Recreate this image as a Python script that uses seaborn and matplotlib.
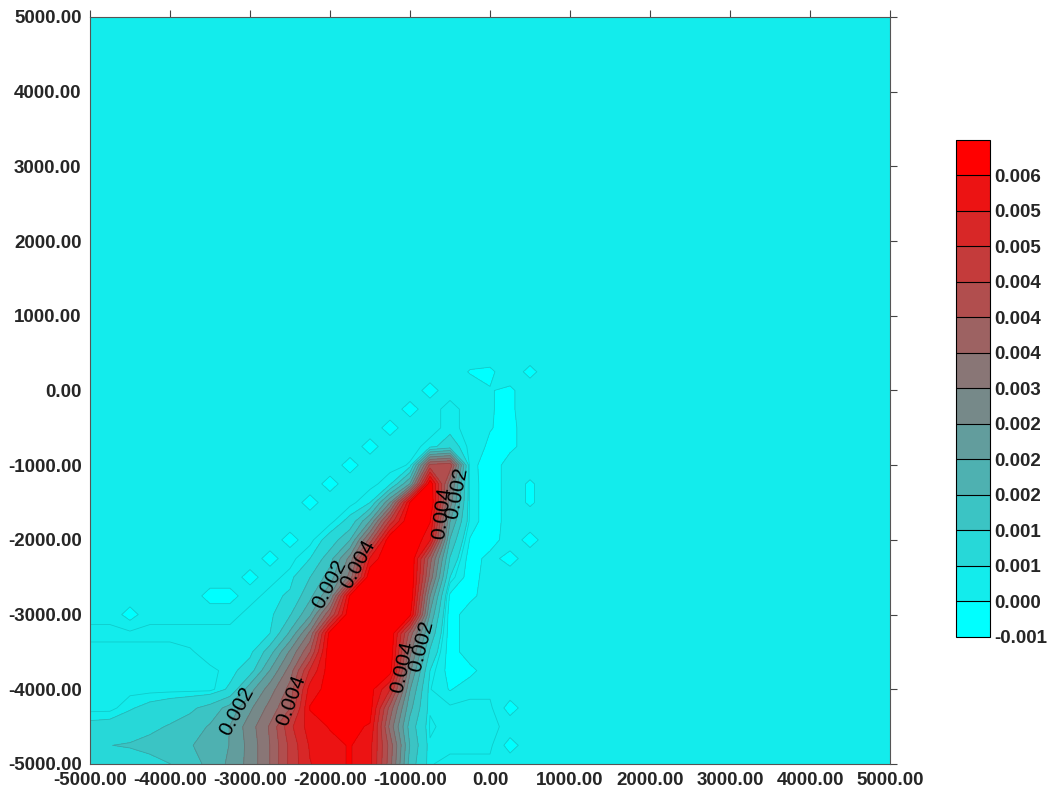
import numpy as np
import matplotlib
matplotlib.use("Agg")
import matplotlib.pyplot as plt
from matplotlib.ticker import FormatStrFormatter
import seaborn as sns

# grid node coordinates (x = 5000 and y = 5000 are added as plain background)
x_nodes = [-5000, -4750, -4500, -4250, -4000, -3750, -3500, -3250, -3000, -2750, -2500, -2250,
           -2000, -1750, -1500, -1250, -1000, -750, -500, -250, 0, 250, 500, 750]
y_nodes = [750, 500, 250, 0, -250, -500, -750, -1000, -1250, -1500, -1750, -2000, -2250,
           -2500, -2750, -3000, -3250, -3500, -3750, -4000, -4250, -4500, -4750, -5000]
background = -2  # in units of 1e-4

# grid values in units of 1e-4, one row per y node (top row first)
z_rows = [
    [-2] * 24,
    [-2] * 24,
    [-2] * 19 + [-5, -5.5, -2, -6, -2],
    [-2] * 17 + [-6.5, -2, -2, -4.4, -5.5, -2, -2],
    [-2] * 16 + [-6.5, -2, -0.5, -2, -4.4, -5.5, -2, -2],
    [-2] * 15 + [-6.5, -2, -2, -0.5, -2, -4.4, -6, -2, -2],
    [-2] * 14 + [-6.5, -2, -2, -0.5, 3, -2, -5.5, -6, -2, -2],
    [-2] * 13 + [-6.5, -2, -2, -1, 40, 42, -2.5, -8, -2, -2, -2],
    [-2] * 12 + [-6.5, -2, -2, 0, 17, 64, 29, -2, -8, -2, -5.4, -2],
    [-2] * 11 + [-6.5, -2, -2, 0.7, 22, 60, 66, 24.5, -2, -8, -2, -5.4, -2],
    [-2] * 13 + [2, 17, 45, 66, 60, 17, -2, -8, -2, -2, -2],
    [-2] * 10 + [-6.5, -2, 2.5, 11.3, 35, 65, 66, 55, 10.9, -5, -7, -2, -6.5, -2],
    [-2] * 9 + [-6.5, -2, 0.7, 9.3, 24, 55, 66, 66, 35, 5.6, -7, -3, -6.5, -2, -2],
    [-2] * 8 + [-6.5, -2, -0.5, 6, 13.9, 29.6, 65, 66, 66, 31, 0.7, -7, -2, -2, -2, -2],
    [-2] * 6 + [-6.5, -6.5, -2, -0.5, 1.4, 9.9, 21.8, 60.5, 66, 66, 65, 22.3, -5.5, -6, -2, -2, -2, -2],
    [-2, -2, -6.5, -2, -2, -2, -2, -2, -0.5, -0.3, 5.6, 15.8, 38, 65, 65, 65, 61, 16, -7, -2, -2, -2, -2, -2],
    [-0.5] * 9 + [0.7, 12.3, 28.7, 62, 65, 65, 65, 35.9, 10.4, -7, -2, -2, -2, -2, -2],
    [-2] * 5 + [-1.4, -0.5, -0.5, -0.5, 9.1, 23, 38, 64, 64, 64, 64, 29, 5.2, -7, -2, -2, -2, -2, -2],
    [-2] * 6 + [-1.5, -0.8, 3.4, 17, 30, 49.6, 63, 63, 63, 62, 23, 0.7, -6.5, -6, -2, -2, -2, -2],
    [-2] * 7 + [1.5, 14.6, 24.9, 34.8, 56.7, 62, 63, 62, 49, 17, -1, -5, -2, -2, -2, -2, -2],
    [-2, -2, 0.3, 2, 3.5, 5, 8, 13.5, 21, 29.5, 38, 60, 63, 63, 62, 36, 13, -1, -0.5, -0.5, -0.5, -6.5, -2, -2],
    [2, 2.5, 3.5, 5, 6.5, 8.5, 12, 17, 25, 33.6, 47.4, 57, 60, 61, 59, 31, 9, -1.5, -0.5, -0.5, -0.5, -2, -2, -2],
    [6, 6, 6.5, 7.5, 9, 11, 13.5, 17, 24, 33, 45, 55, 58, 60, 56, 36, 11, -1, -0.5, -0.5, -0.5, -6.5, -2, -2],
    [3, 3, 3.5, 4.5, 6, 9, 13, 18, 24, 33, 45, 54, 58, 60, 56, 35, 9, -1, -2, -2, -2, -2, -2, -2],
]

# contour levels and colour-scale labels
levels = [-0.0010, -0.000464, 0.000071, 0.000607, 0.00114, 0.00168, 0.00221, 0.00275,
          0.00329, 0.00382, 0.00436, 0.00489, 0.00543, 0.00596, 0.0070]
faint_level = -0.00012  # extra outline inside the background band
cbar_labels = ['-0.001', '0.000', '0.001', '0.001', '0.002', '0.002', '0.002', '0.003',
               '0.004', '0.004', '0.004', '0.005', '0.005', '0.006']
axis_ticks = [-5000, -4000, -3000, -2000, -1000, 0, 1000, 2000, 3000, 4000, 5000]

# where the 0.002 / 0.004 line labels sit
label_levels = [levels[5], levels[9]]
label_spots = [(-1962, -2630), (-3125, -4317), (-840, -3430), (-412, -1370),
               (-1537, -2360), (-2500, -4140), (-1125, -3700), (-587, -1640)]

sns.set_style("white")
plt.rcParams['font.family'] = ['Liberation Sans', 'DejaVu Sans']

# assemble the grid, add the far background edge, flip to ascending y
z = np.array(z_rows, dtype=float)
z = np.pad(z, ((1, 0), (0, 1)), constant_values=background)
xs = np.array(x_nodes + [5000])
ys = np.array([5000] + y_nodes)
z = z[::-1] * 1e-4
ys = ys[::-1]

palette = sns.blend_palette(["#00FFFF", "#FF0000"], n_colors=len(levels) - 1)

fig = plt.figure(figsize=(10.57, 7.89), dpi=100)
ax = fig.add_axes([0.0851, 0.0317, 0.757, 0.9468])

cf = ax.contourf(xs, ys, z, levels=levels, colors=palette)
line_levels = sorted([faint_level] + levels[1:-1])
ax.contour(xs, ys, z, levels=line_levels, colors='k', linewidths=0.6, alpha=0.14,
           linestyles='solid')
lab_cs = ax.contour(xs, ys, z, levels=label_levels, colors='k', linewidths=0)
ax.clabel(lab_cs, fmt=lambda v: f"{v:.3f}", manual=label_spots, fontsize=15,
          colors='k', inline=False)

ax.set_xlim(-5000, 5000)
ax.set_ylim(-5000, 5000)
ax.set_xticks(axis_ticks)
ax.set_yticks(axis_ticks)
ax.xaxis.set_major_formatter(FormatStrFormatter('%.2f'))
ax.yaxis.set_major_formatter(FormatStrFormatter('%.2f'))
ax.tick_params(direction='out', length=5, width=0.8, color='#444444',
               top=True, right=True, labeltop=False, labelright=False, pad=1)
for lab in ax.get_xticklabels() + ax.get_yticklabels():
    lab.set_fontsize(13.5)
    lab.set_fontweight('bold')
for sp in ax.spines.values():
    sp.set_color('#555555')
    sp.set_linewidth(0.8)

cax = fig.add_axes([0.9045, 0.1927, 0.0322, 0.63])
cbar = fig.colorbar(cf, cax=cax, ticks=levels[:-1], drawedges=True)
cbar.ax.set_yticklabels(cbar_labels)
cbar.ax.tick_params(length=0, pad=3)
for lab in cbar.ax.get_yticklabels():
    lab.set_fontsize(13.5)
    lab.set_fontweight('bold')
cbar.dividers.set_color('k')
cbar.dividers.set_linewidth(0.8)
cbar.outline.set_edgecolor('k')
cbar.outline.set_linewidth(0.8)

fig.savefig("out.png", dpi=100)
